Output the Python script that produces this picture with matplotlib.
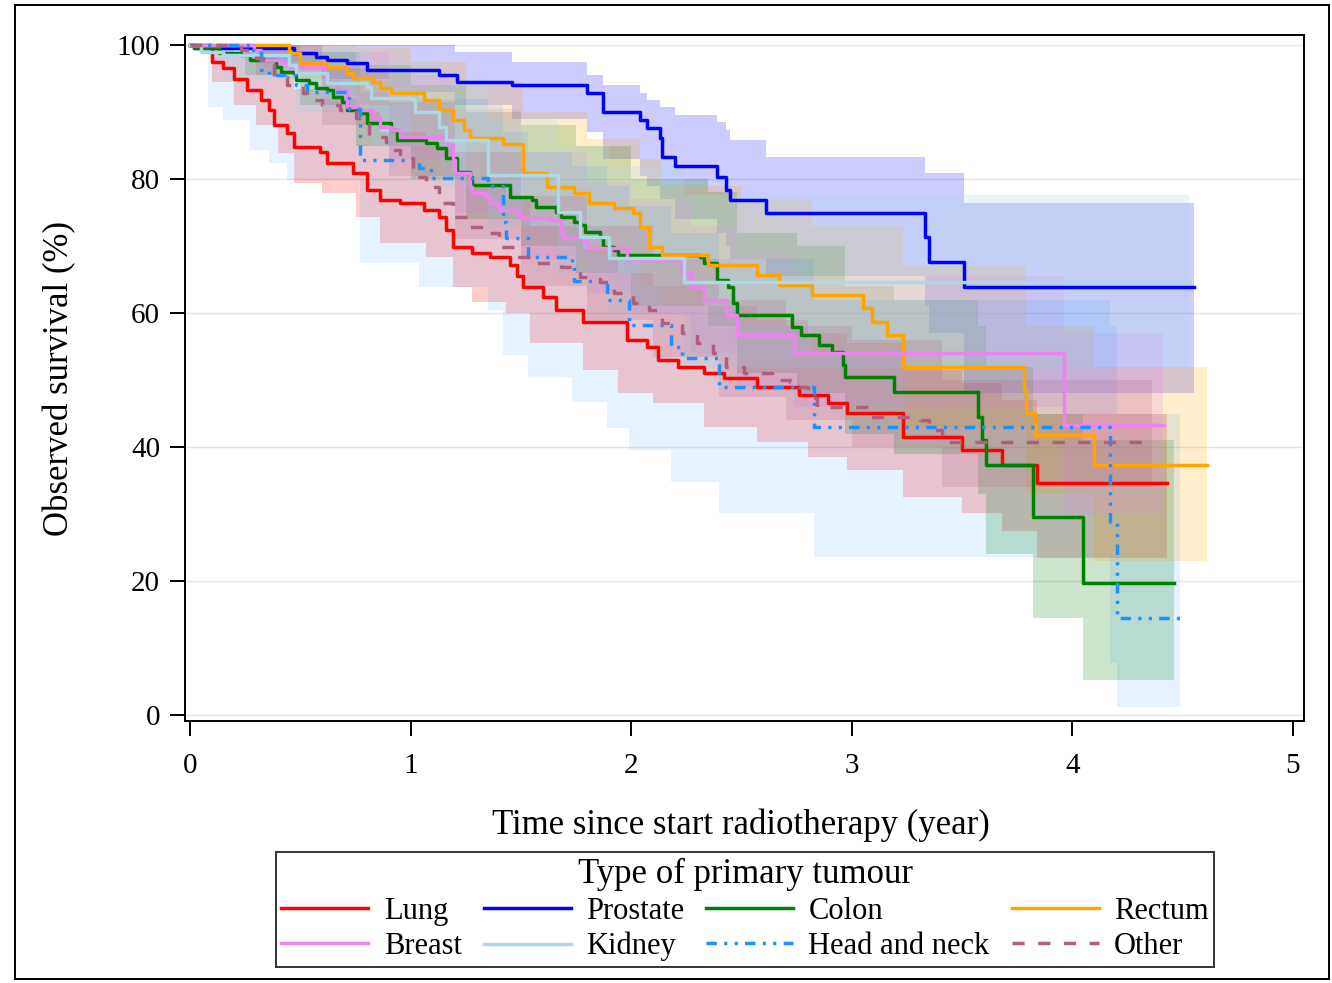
import matplotlib
matplotlib.use("Agg")
import matplotlib.pyplot as plt
from matplotlib.patches import Rectangle

plt.rcParams['font.family'] = ['Liberation Serif', 'DejaVu Serif']

# ---------------- data ----------------
groups = ["Lung", "Prostate", "Colon", "Rectum", "Breast", "Kidney", "Head and neck", "Other"]

lung_t = [0, 0.10, 0.15, 0.20, 0.26, 0.32, 0.36, 0.38, 0.44, 0.47, 0.59, 0.62, 0.74, 0.80, 0.86, 0.95, 1.06, 1.13, 1.16, 1.19, 1.28, 1.36, 1.45, 1.48, 1.51, 1.60, 1.66, 1.78, 1.98, 2.07, 2.12, 2.21, 2.33, 2.42, 2.57, 2.76, 2.89, 2.98, 3.23, 3.50, 3.68, 3.84]
lung_s = [100, 97.5, 96.6, 95.0, 93.3, 91.8, 90.3, 88.0, 86.9, 84.8, 84.0, 82.4, 80.9, 78.4, 76.9, 76.4, 75.4, 74.3, 72.4, 69.9, 69.0, 68.4, 67.2, 65.5, 63.9, 62.4, 60.4, 58.7, 56.0, 54.9, 53.0, 51.9, 51.0, 50.3, 49.0, 47.8, 46.6, 45.1, 41.5, 39.6, 37.3, 34.6]
lung_end = 4.43
lung_band_t = [0, 0.10, 0.20, 0.30, 0.40, 0.47, 0.60, 0.75, 0.86, 1.07, 1.19, 1.28, 1.43, 1.54, 1.78, 1.94, 2.10, 2.33, 2.57, 2.80, 2.98, 3.23, 3.50, 3.68, 3.84]
lung_band_lo = [100, 94.5, 91.0, 88.0, 83.9, 79.4, 77.9, 74.3, 70.4, 68.4, 63.9, 61.6, 60.0, 55.5, 51.5, 48.1, 46.6, 43.0, 40.7, 38.5, 36.6, 32.5, 30.1, 27.5, 23.5]
lung_band_hi = [100, 99.5, 99.0, 97.5, 95.5, 93.5, 92.0, 90.0, 87.0, 85.0, 81.0, 79.0, 77.0, 73.0, 69.5, 66.0, 64.0, 61.0, 59.0, 57.0, 55.5, 51.5, 49.5, 47.0, 45.0]

pros_t = [0, 0.02, 0.47, 0.57, 0.62, 0.71, 0.80, 1.13, 1.21, 1.46, 1.80, 1.87, 2.04, 2.07, 2.13, 2.14, 2.20, 2.39, 2.43, 2.45, 2.61, 3.33, 3.35, 3.51]
pros_s = [100, 99.5, 98.8, 98.2, 97.8, 97.3, 96.3, 95.5, 94.5, 94.0, 92.8, 90.0, 88.8, 87.6, 86.1, 83.3, 82.0, 80.3, 78.4, 76.9, 74.9, 71.3, 67.6, 63.9]
pros_end = 4.55
pros_band_t = [0, 0.30, 0.60, 0.90, 1.20, 1.46, 1.80, 1.87, 2.04, 2.07, 2.13, 2.20, 2.39, 2.43, 2.45, 2.61, 3.33, 3.35, 3.51]
pros_band_lo = [100, 97.5, 95.0, 93.0, 91.0, 89.0, 87.0, 83.0, 80.5, 79.0, 77.0, 74.0, 72.0, 70.0, 68.0, 65.5, 61.0, 57.0, 48.0]
pros_band_hi = [100, 100, 100, 100, 99.0, 97.5, 95.5, 94.0, 92.8, 91.8, 90.7, 89.6, 88.5, 87.3, 85.8, 83.3, 80.9, 80.9, 76.4]

colon_t = [0, 0.02, 0.13, 0.23, 0.27, 0.39, 0.41, 0.47, 0.48, 0.54, 0.57, 0.62, 0.65, 0.69, 0.71, 0.77, 0.80, 0.91, 0.94, 1.07, 1.12, 1.16, 1.21, 1.27, 1.28, 1.45, 1.55, 1.57, 1.66, 1.68, 1.74, 1.77, 1.79, 1.86, 1.87, 1.92, 1.94, 2.31, 2.33, 2.39, 2.44, 2.46, 2.48, 2.73, 2.77, 2.85, 2.91, 2.96, 2.97, 3.19, 3.57, 3.59, 3.61, 3.82, 4.05]
colon_s = [100, 99.5, 98.8, 98.5, 97.8, 96.7, 96.0, 95.8, 94.8, 94.3, 93.6, 93.3, 92.2, 91.5, 90.3, 89.9, 88.4, 87.3, 85.8, 85.4, 84.6, 83.1, 81.0, 80.3, 79.1, 77.3, 76.9, 75.8, 75.1, 74.3, 73.6, 73.1, 72.1, 71.3, 69.9, 69.4, 68.7, 68.4, 67.5, 64.9, 63.9, 61.5, 59.7, 57.9, 56.7, 55.2, 54.2, 52.2, 50.4, 48.2, 44.5, 41.0, 37.3, 29.6, 19.7]
colon_end = 4.46
colon_band_t = [0, 0.25, 0.50, 0.75, 1.00, 1.25, 1.50, 1.75, 2.00, 2.35, 2.48, 2.75, 2.97, 3.19, 3.57, 3.61, 3.82, 4.05]
colon_band_lo = [100, 95.5, 91.0, 85.0, 80.0, 74.0, 70.0, 66.0, 61.0, 58.0, 51.0, 48.0, 42.0, 39.0, 33.0, 24.0, 14.5, 5.2]
colon_band_hi = [100, 100, 99.0, 97.0, 94.0, 90.0, 88.0, 85.0, 80.0, 78.0, 72.0, 70.0, 64.0, 62.0, 58.0, 52.0, 45.0, 41.0]

rect_t = [0, 0.45, 0.50, 0.62, 0.71, 0.74, 0.83, 0.86, 0.91, 1.06, 1.13, 1.19, 1.24, 1.27, 1.42, 1.51, 1.62, 1.74, 1.81, 1.92, 2.01, 2.04, 2.08, 2.14, 2.35, 2.57, 2.67, 2.82, 3.05, 3.09, 3.16, 3.23, 3.78, 3.79, 3.83, 4.10]
rect_s = [100, 98.8, 97.3, 96.7, 95.8, 95.1, 94.5, 93.6, 92.8, 91.8, 90.3, 88.8, 87.3, 86.1, 85.2, 80.9, 78.8, 77.9, 76.4, 75.7, 74.9, 72.8, 69.9, 68.7, 67.2, 65.7, 64.2, 62.7, 60.7, 58.7, 56.7, 52.0, 48.5, 45.1, 41.8, 37.3]
rect_end = 4.61
rect_band_t = [0, 0.45, 0.75, 1.00, 1.25, 1.51, 1.80, 2.04, 2.14, 2.50, 2.82, 3.23, 3.79, 4.10]
rect_band_lo = [100, 95.0, 91.0, 86.0, 80.0, 74.0, 69.0, 64.0, 61.0, 58.0, 54.0, 43.0, 33.0, 23.0]
rect_band_hi = [100, 100, 99.5, 97.5, 94.5, 90.0, 86.0, 83.0, 79.0, 77.0, 73.0, 67.0, 58.0, 52.0]

breast_t = [0, 0.29, 0.32, 0.41, 0.45, 0.61, 0.62, 0.67, 0.71, 0.77, 0.83, 0.86, 0.91, 0.95, 1.17, 1.19, 1.20, 1.27, 1.28, 1.34, 1.36, 1.40, 1.48, 1.50, 1.63, 1.68, 1.69, 1.77, 1.80, 1.98, 2.23, 2.27, 2.33, 2.43, 2.48, 2.74, 3.96]
breast_s = [100, 99.2, 97.8, 97.3, 96.7, 95.2, 94.5, 93.3, 90.7, 90.3, 89.3, 87.8, 87.3, 86.3, 85.1, 82.8, 80.9, 78.8, 77.9, 77.3, 76.4, 75.4, 74.9, 74.2, 73.9, 72.4, 71.2, 70.9, 69.7, 67.9, 66.0, 63.9, 61.9, 59.7, 56.7, 54.0, 43.3]
breast_end = 4.41
breast_band_t = [0, 0.30, 0.60, 0.90, 1.20, 1.50, 1.80, 2.00, 2.27, 2.48, 2.74, 3.96]
breast_band_lo = [100, 96.5, 91.0, 83.0, 75.0, 68.0, 63.0, 60.0, 54.0, 49.0, 46.0, 30.0]
breast_band_hi = [100, 100, 99.0, 95.5, 90.5, 84.0, 79.5, 77.0, 73.0, 69.0, 65.5, 57.0]

kid_t = [0, 0.05, 0.15, 0.45, 0.48, 0.62, 0.80, 0.82, 1.01, 1.02, 1.13, 1.16, 1.35, 1.67, 1.77, 1.90, 2.24]
kid_s = [100, 99.0, 98.5, 97.0, 95.8, 94.3, 93.7, 92.1, 91.8, 90.0, 87.8, 85.8, 80.6, 75.1, 71.3, 68.2, 64.6]
kid_end = 4.53
kid_band_t = [0, 0.15, 0.48, 0.82, 1.13, 1.35, 1.67, 1.90, 2.24]
kid_band_lo = [100, 95.0, 90.0, 85.0, 79.0, 73.0, 66.0, 60.0, 52.0]
kid_band_hi = [100, 100, 99.5, 97.5, 94.5, 89.0, 85.0, 82.0, 77.6]

hn_t = [0, 0.27, 0.32, 0.36, 0.48, 0.53, 0.72, 0.77, 1.04, 1.09, 1.35, 1.42, 1.43, 1.53, 1.73, 1.74, 1.89, 1.99, 2.18, 2.23, 2.40, 2.83, 4.17, 4.20]
hn_s = [100, 99.2, 96.3, 95.5, 94.0, 93.0, 90.5, 82.8, 81.6, 80.1, 79.0, 73.6, 71.2, 68.4, 67.0, 64.8, 62.0, 58.2, 55.0, 53.3, 49.0, 43.0, 28.8, 14.5]
hn_end = 4.49
hn_band_t = [0, 0.08, 0.15, 0.27, 0.36, 0.44, 0.77, 1.04, 1.35, 1.42, 1.53, 1.73, 1.89, 1.99, 2.18, 2.40, 2.83, 4.17, 4.20]
hn_band_lo = [100, 90.7, 88.8, 84.3, 82.4, 79.9, 67.5, 63.9, 60.4, 53.7, 50.4, 46.7, 42.8, 39.5, 34.8, 30.1, 23.6, 7.8, 1.2]
hn_band_hi = [100, 100, 100, 100, 99.5, 99.0, 93.0, 92.0, 91.0, 87.0, 84.0, 82.0, 79.0, 76.0, 72.0, 68.0, 62.0, 58.0, 45.0]

oth_t = [0, 0.23, 0.30, 0.33, 0.38, 0.44, 0.51, 0.53, 0.60, 0.68, 0.75, 0.81, 0.89, 0.91, 0.95, 1.01, 1.07, 1.13, 1.19, 1.26, 1.35, 1.40, 1.48, 1.55, 1.68, 1.77, 1.86, 1.92, 2.01, 2.08, 2.14, 2.23, 2.30, 2.37, 2.43, 2.51, 2.64, 2.72, 2.76, 2.80, 2.84, 3.08, 3.31, 3.35, 3.41]
oth_s = [100, 99.3, 98.0, 97.3, 95.2, 94.0, 92.8, 91.8, 91.0, 90.3, 89.1, 86.3, 85.5, 84.3, 83.1, 80.3, 78.8, 76.4, 74.3, 72.8, 71.9, 69.9, 68.4, 67.5, 66.9, 65.4, 64.6, 63.0, 61.5, 60.4, 58.5, 57.0, 55.5, 54.0, 52.0, 51.0, 50.0, 49.7, 49.0, 47.3, 46.0, 44.5, 44.0, 42.5, 40.7]
oth_end = 4.36
oth_band_t = [0, 0.30, 0.60, 0.90, 1.20, 1.50, 1.80, 2.10, 2.40, 2.70, 3.00, 3.41]
oth_band_lo = [100, 95.5, 88.0, 80.5, 71.0, 64.0, 59.0, 53.5, 47.5, 44.0, 40.0, 34.0]
oth_band_hi = [100, 100, 96.5, 91.5, 84.0, 77.5, 73.0, 68.0, 62.0, 58.0, 56.0, 50.0]

x_ticks = [0, 1, 2, 3, 4, 5]
y_ticks = [0, 20, 40, 60, 80, 100]

# ---------------- styles ----------------
colors = ["#ff0000", "#0000ff", "#008000", "#ffa500", "#ee82ee", "#add8e6", "#1e90ff", "#b0607f"]
band_alpha = [0.2, 0.2, 0.2, 0.2, 0.2, 0.25, 0.11, 0.2]
styles = ["-", "-", "-", "-", "-", "-", (0, (3.0, 2.1, 0.9, 2.1, 0.9, 2.1)), (0, (3.5, 3.9))]

curves = [
    (lung_t, lung_s, lung_end, lung_band_t, lung_band_lo, lung_band_hi),
    (pros_t, pros_s, pros_end, pros_band_t, pros_band_lo, pros_band_hi),
    (colon_t, colon_s, colon_end, colon_band_t, colon_band_lo, colon_band_hi),
    (rect_t, rect_s, rect_end, rect_band_t, rect_band_lo, rect_band_hi),
    (breast_t, breast_s, breast_end, breast_band_t, breast_band_lo, breast_band_hi),
    (kid_t, kid_s, kid_end, kid_band_t, kid_band_lo, kid_band_hi),
    (hn_t, hn_s, hn_end, hn_band_t, hn_band_lo, hn_band_hi),
    (oth_t, oth_s, oth_end, oth_band_t, oth_band_lo, oth_band_hi),
]

fig = plt.figure(figsize=(13.32, 9.83), dpi=100)
ax = fig.add_axes([185 / 1332, 1 - 721 / 983, (1304 - 185) / 1332, (721 - 35) / 983])

# bands
for (t, s, end, bt, blo, bhi), c, a in zip(curves, colors, band_alpha):
    ax.fill_between(list(bt) + [end], list(blo) + [blo[-1]], list(bhi) + [bhi[-1]],
                    step="post", color=c, alpha=a, lw=0, zorder=1)

# lines
handles = []
for (t, s, end, bt, blo, bhi), c, ls, name in zip(curves, colors, styles, groups):
    h, = ax.step(list(t) + [end], list(s) + [s[-1]], where="post", color=c, lw=2.5,
                 linestyle=ls, label=name, zorder=3)
    handles.append(h)

ax.set_xlim(-0.023, 5.05)
ax.set_ylim(-0.9, 101.5)
ax.set_xticks(x_ticks)
ax.set_yticks(y_ticks)
ax.set_xticklabels([str(v) for v in x_ticks])
ax.set_yticklabels([str(v) for v in y_ticks])
ax.tick_params(axis="both", direction="out", length=11, width=1.4, labelsize=21, color="black")
ax.tick_params(axis="y", pad=7)
ax.tick_params(axis="x", pad=12)
ax.grid(axis="y", color="#e4e4e4", lw=1.0, zorder=0)
ax.set_axisbelow(True)
for sp in ax.spines.values():
    sp.set_linewidth(1.4)
    sp.set_color("black")

ax.set_xlabel("Time since start radiotherapy (year)", fontsize=25)
ax.set_ylabel("Observed survival (%)", fontsize=25)
ax.xaxis.set_label_coords(0.497, -0.127)
ax.yaxis.set_label_coords(-0.097, 0.5)

# legend filled row by row (4 columns x 2 rows)
ncol = 4
order = [r * ncol + c for c in range(ncol) for r in range(2)]
leg = fig.legend([handles[i] for i in order], [groups[i] for i in order],
                 loc="upper center", bbox_to_anchor=(745 / 1332, 1 - 852 / 983),
                 ncol=ncol, fontsize=22, title="Type of primary tumour", title_fontsize=25,
                 frameon=True, fancybox=False, edgecolor="black", handlelength=2.85,
                 handletextpad=0.5, columnspacing=0.72, labelspacing=0.2,
                 borderpad=0.18, borderaxespad=0)
leg.get_frame().set_linewidth(1.4)

fig.patches.append(Rectangle((15 / 1332, 1 - 979 / 983), (1329 - 15) / 1332, (979 - 5) / 983,
                             transform=fig.transFigure, fill=False, lw=1.4, edgecolor="black"))

fig.savefig("out.png", dpi=100)
